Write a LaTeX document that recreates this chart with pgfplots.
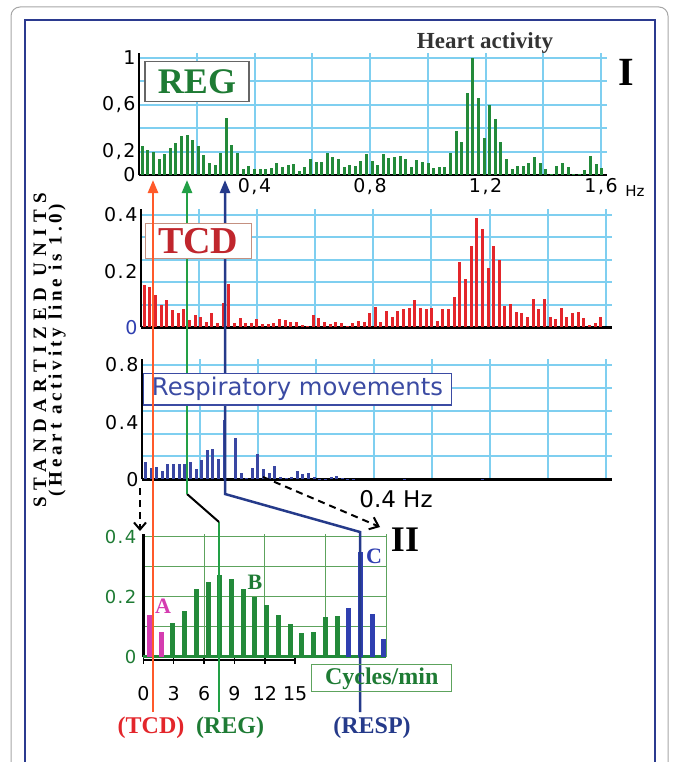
\documentclass[border=0pt]{standalone}
\usepackage{fontspec}
\setmainfont{Liberation Serif}
\newfontfamily\dv{DejaVu Sans}
\newfontfamily\dvw{DejaVu Sans}[LetterSpace=8]
\newfontfamily\ylabA{Liberation Serif}[LetterSpace=34]
\newfontfamily\ylabB{Liberation Serif}[LetterSpace=20]
\usepackage{pgfplots}
\usepackage{pgfplotstable}
\pgfplotsset{compat=1.18}
\usetikzlibrary{arrows.meta}

\newcommand{\fs}[1]{\fontsize{#1}{#1}\selectfont}

\definecolor{gridblue}{HTML}{7FCFF0}
\definecolor{regbar}{HTML}{238A3A}
\definecolor{regtext}{HTML}{1E7B34}
\definecolor{tcdbar}{HTML}{E3262B}
\definecolor{tcdtext}{HTML}{C0262D}
\definecolor{tcdbox}{HTML}{C49080}
\definecolor{respbar}{HTML}{3A47A3}
\definecolor{resptext}{HTML}{3B4BA3}
\definecolor{orangeL}{HTML}{FF5A2A}
\definecolor{greenL}{HTML}{22A046}
\definecolor{navyL}{HTML}{253A8A}
\definecolor{gridgreen}{HTML}{5DA35D}
\definecolor{magA}{HTML}{D53CB0}
\definecolor{blueC}{HTML}{2F3FB0}
\definecolor{frame}{HTML}{2B3A8F}

% spectra, bin k -> f = (k-0.4)*0.0194 Hz
\pgfplotstableread{
k v
1 0.25
2 0.21
3 0.20
4 0.14
5 0.18
6 0.23
7 0.27
8 0.33
9 0.34
10 0.30
11 0.25
12 0.17
13 0.10
14 0.085
15 0.19
16 0.49
17 0.26
18 0.19
19 0.05
20 0.077
21 0.05
22 0.048
23 0.048
24 0.063
25 0.10
26 0.066
27 0.085
28 0.09
29 0.037
30 0.07
31 0.134
32 0.108
33 0.114
34 0.185
35 0.157
36 0.137
37 0.066
38 0.085
39 0.077
40 0.123
41 0.18
42 0.12
43 0.085
44 0.177
45 0.142
46 0.151
47 0.165
48 0.134
49 0.066
50 0.128
51 0.114
52 0.105
53 0.063
54 0.066
55 0.066
56 0.185
57 0.38
58 0.285
59 0.70
60 1.0
61 0.66
62 0.32
63 0.60
64 0.48
65 0.28
66 0.134
67 0.05
68 0.08
69 0.08
70 0.10
71 0.157
72 0.105
73 0.05
74 0.01
75 0.08
76 0.10
77 0.066
78 0.01
79 0.01
80 0.04
81 0.16
82 0.09
83 0.06
}\regdata

\pgfplotstableread{
k v
1 0.151
2 0.142
3 0.115
4 0.079
5 0.097
6 0.062
7 0.05
8 0.064
9 0.026
10 0.044
11 0.038
12 0.02
13 0.05
14 0.016
15 0.085
16 0.154
17 0.016
18 0.032
19 0.016
20 0.016
21 0.03
22 0.011
23 0.011
24 0.016
25 0.03
26 0.026
27 0.02
28 0.018
29 0.008
30 0.005
31 0.044
32 0.034
33 0.018
34 0.011
35 0.018
36 0.016
37 0.005
38 0.014
39 0.024
40 0.018
41 0.052
42 0.073
43 0.018
44 0.058
45 0.038
46 0.059
47 0.064
48 0.068
49 0.097
50 0.068
51 0.064
52 0.07
53 0.022
54 0.064
55 0.064
56 0.109
57 0.231
58 0.172
59 0.29
60 0.39
61 0.35
62 0.21
63 0.29
64 0.238
65 0.076
66 0.082
67 0.056
68 0.052
69 0.038
70 0.10
71 0.065
72 0.102
73 0.038
74 0.029
75 0.068
76 0.036
77 0.05
78 0.055
79 0.032
80 0.008
81 0.014
82 0.038
}\tcddata

\pgfplotstableread{
k v
1 0.121
2 0.077
3 0.089
4 0.058
5 0.11
6 0.11
7 0.105
8 0.105
9 0.121
10 0.075
11 0.133
12 0.205
13 0.212
14 0.145
15 0.415
17 0.287
18 0.047
19 0.012
20 0.082
21 0.175
22 0.07
23 0.042
24 0.093
25 0.016
26 0.012
27 0.019
28 0.058
29 0.035
30 0.042
31 0.016
32 0.004
33 0.005
34 0.015
35 0.02
36 0.01
37 0.005
38 0.005
47 0.005
61 0.004
}\respdata

% zoomed spectrum, cycles/min
\pgfplotstableread{
x v
0.60 0.139
1.76 0.083
}\zA
\pgfplotstableread{
x v
2.92 0.113
4.07 0.152
5.23 0.226
6.39 0.25
7.55 0.274
8.71 0.258
9.86 0.226
11.02 0.198
12.18 0.172
13.34 0.139
14.50 0.108
15.65 0.078
16.81 0.081
17.97 0.133
19.13 0.136
}\zB
\pgfplotstableread{
x v
20.29 0.163
21.44 0.35
22.60 0.142
23.76 0.059
}\zC

\pgfplotsset{
  panel/.style={
    scale only axis, anchor=south west,
    axis lines=left, axis line style={-, black, line width=2.5pt},
    enlargelimits=false, clip=false,
    major tick length=0pt, minor tick length=0pt,
    grid=both, grid style={gridblue, line width=2pt},
    tick label style={font=\dvw\fs{19}},
    xmin=0, xmax=1.62, ymin=0,
  }
}

\begin{document}
\begin{tikzpicture}
\path[use as bounding box] (0pt,0pt) rectangle (677pt,-762pt);

% I: REG
\begin{axis}[panel, at={(139pt,-175pt)}, width=467.8pt, height=121.7pt, ymax=1.04,
  xtick={0.4,0.8,1.2,1.6}, xticklabels={{0,4},{0,8},{1,2},{1,6}},
  minor xtick={0.2,0.6,1.0,1.4},
  ytick={0,0.2,0.4,0.6,0.8,1}, yticklabels={0,{0,2},,{0,6},,1}]
\addplot[ycomb, draw=regbar, line width=3pt] table[x expr=(\thisrow{k}-0.4)*0.0194, y=v] {\regdata};
\end{axis}

% TCD
\begin{axis}[panel, at={(140.9pt,-327.3pt)}, width=470.6pt, height=117.9pt, ymax=0.42,
  xtick={0.2,0.4,...,1.6}, xticklabels={},
  ytick={0,0.2,0.4}, yticklabels={\textcolor{blueC}{0},0.2,0.4},
  minor ytick={0.08,0.16,0.24,0.32,0.4}, ymajorgrids=false]
\addplot[ycomb, draw=tcdbar, line width=3pt] table[x expr=(\thisrow{k}-0.4)*0.0194, y=v] {\tcddata};
\end{axis}

% RESP
\begin{axis}[panel, at={(142pt,-479.3pt)}, width=469.8pt, height=120pt, ymax=0.84,
  xtick={0.2,0.4,...,1.6}, xticklabels={},
  ytick={0,0.4,0.8}, yticklabels={0,0.4,0.8},
  minor ytick={0.16,0.32,0.48,0.64,0.8}, ymajorgrids=false]
\addplot[ycomb, draw=respbar, line width=3pt] table[x expr=(\thisrow{k}-0.4)*0.0194, y=v] {\respdata};
\end{axis}

% II: zoomed 0-0.4 Hz
\begin{axis}[scale only axis, anchor=south west, at={(143.3pt,-656.7pt)},
  width=243.1pt, height=123pt, xmin=0, xmax=24, ymin=0, ymax=0.41,
  enlargelimits=false, clip=false,
  axis lines=left, y axis line style={-, black, line width=2.5pt},
  x axis line style={draw=none},
  xtick={0,3,...,15}, xticklabels={0,3,6,9,12,15}, xtick align=outside,
  major x tick style={black, line width=1.5pt}, major tick length=7pt,
  minor xtick={6,12,18,24}, xminorgrids=true, xmajorgrids=false,
  ytick={0,0.2,0.4}, yticklabels={0,0.2,0.4}, minor ytick={0.1,0.3},
  ymajorgrids=true, yminorgrids=true, ytick style={draw=none}, minor tick length=0pt,
  grid style={gridgreen, line width=1pt},
  x tick label style={font=\dv\fs{19}, yshift=-19pt},
  y tick label style={font=\dvw\fs{18}, text=regtext}]
\draw[regbar, line width=3pt] (axis cs:0,0) -- (axis cs:24,0);
\draw[black, line width=2pt] ([yshift=-3pt]axis cs:0,0) -- ([yshift=-3pt]axis cs:15,0);
\addplot[ycomb, draw=magA, line width=5pt] table[x=x, y=v] {\zA};
\addplot[ycomb, draw=regbar, line width=5pt] table[x=x, y=v] {\zB};
\addplot[ycomb, draw=blueC, line width=5pt] table[x=x, y=v] {\zC};
\end{axis}

\begin{scope}[x=1pt, y=-1pt]
% frames
\draw[gray!70, line width=1pt, rounded corners=9pt] (11,762) -- (11,7) -- (668,7) -- (668,762);
\draw[frame, line width=1.8pt] (25,762) -- (25,20) -- (655,20) -- (655,762);

% connecting lines
\draw[greenL, line width=2.5pt] (219,712) -- (219,522);
\draw[black, line width=2pt] (219,522) -- (187,494);
\draw[greenL, line width=2.5pt, -{Triangle[width=10pt,length=13pt]}] (187,494) -- (187,180);
\draw[navyL, line width=2.5pt, -{Triangle[width=10pt,length=13pt]}] (360,712) -- (360,532) -- (225,494) -- (225,180);
\draw[black, line width=2pt, dash pattern=on 7pt off 5pt, -{Straight Barb[length=7pt,width=12pt]}] (140,488) -- (140,531);
\draw[black, line width=2pt, dash pattern=on 7pt off 5pt, -{Straight Barb[length=8pt,width=13pt]}] (263,477) -- (380,527);

% panel boxes
\node[draw=gray!80!black, line width=1.5pt, fill=white, minimum width=104pt, minimum height=40pt,
  inner sep=0pt, text=regtext, font=\bfseries\fs{36}] at (197,81.7) {REG};
\node[draw=tcdbox, line width=1.5pt, fill=white, minimum width=106pt, minimum height=35pt,
  inner sep=0pt, text=tcdtext, font=\bfseries\fs{38}] at (198.3,240.8) {TCD};
\node[draw=resptext, line width=1.2pt, fill=white, minimum width=308pt, minimum height=31.7pt,
  inner sep=0pt, text=resptext, font=\dv\fs{24.3}] at (297.5,389.2) {Respiratory movements};
\draw[orangeL, line width=2.5pt, -{Triangle[width=10pt,length=13pt]}] (153,712) -- (153,180);

% texts
\node[text=black!80, font=\bfseries\fs{23}] at (485,43) {Heart activity};
\node[font=\bfseries\fs{40}] at (626,72) {I};
\node[font=\dv\fs{15}] at (635,191) {Hz};
\node[font=\dv\fs{23}] at (396,499) {0.4 Hz};
\node[font=\bfseries\fs{36}] at (405,540) {II};
\node[text=magA, font=\bfseries\fs{22}] at (163,606) {A};
\node[text=regtext, font=\bfseries\fs{22}] at (255,582) {B};
\node[text=blueC, font=\bfseries\fs{22}] at (374,556) {C};
\node[draw=gridgreen, line width=1pt, minimum width=140pt, minimum height=26.7pt, inner sep=0pt,
  text=regtext, font=\bfseries\fs{24}] at (381.7,678.3) {Cycles/min};
\node[text=tcdbar, font=\bfseries\fs{24}] at (151,728) {(TCD)};
\node[text=regtext, font=\bfseries\fs{24}] at (230,728) {(REG)};
\node[text=navyL, font=\bfseries\fs{24}] at (372,728) {(RESP)};
\node[rotate=90, font=\ylabA\bfseries\fs{19}] at (40,350) {STANDARTIZED UNITS};
\node[rotate=90, font=\ylabB\bfseries\fs{19}] at (57,350) {(Heart activity line is 1.0)};
\end{scope}
\end{tikzpicture}
\end{document}
